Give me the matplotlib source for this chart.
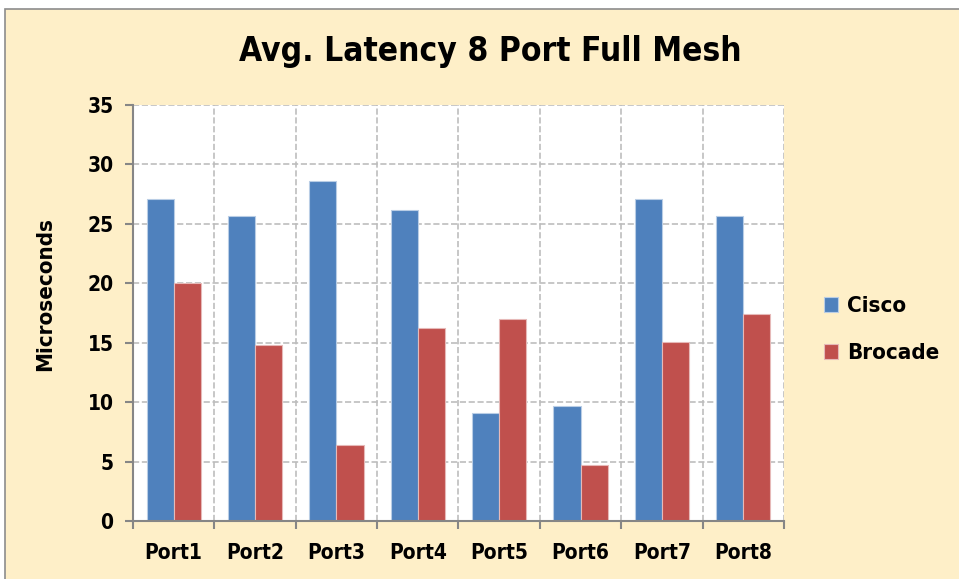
import numpy as np
import matplotlib
matplotlib.use("Agg")
import matplotlib.pyplot as plt
from matplotlib.patches import Rectangle

ports = ["Port1", "Port2", "Port3", "Port4", "Port5", "Port6", "Port7", "Port8"]
cisco = [27.1, 25.7, 28.6, 26.2, 9.1, 9.7, 27.1, 25.7]
brocade = [20.0, 14.8, 6.4, 16.2, 17.0, 4.7, 15.1, 17.4]

plt.rcParams['font.family'] = ['DejaVu Sans']
plt.rcParams['font.stretch'] = 'condensed'

bg = '#FEEFC8'
fig = plt.figure(figsize=(9.59, 5.79), dpi=100, facecolor='white')

# chart area background with a gray frame (cropped at right/bottom)
fig.patches.append(Rectangle((5 / 959, -0.05), 1.1, (579 - 9) / 579 + 0.05,
                             transform=fig.transFigure, facecolor=bg,
                             edgecolor='#8c8c8c', linewidth=1.2, zorder=-5))

ax = fig.add_axes([133 / 959, 58 / 579, (784 - 133) / 959, (521 - 105) / 579])
ax.set_zorder(2)
ax.set_facecolor('white')

x = np.arange(len(ports))
w = 1 / 3
ax.bar(x - w / 2, cisco, w, color='#4F81BD', edgecolor='#B9CDE5', linewidth=0.8,
       label='Cisco', zorder=3)
ax.bar(x + w / 2, brocade, w, color='#C0504D', edgecolor='#E6B9B8', linewidth=0.8,
       label='Brocade', zorder=3)

ax.set_xlim(-0.5, len(ports) - 0.5)
ax.set_ylim(0, 35)
ax.set_yticks(range(0, 36, 5))
ax.set_xticks(x)
ax.set_xticklabels(ports)
ax.set_xticks(np.arange(-0.5, len(ports)), minor=True)

ax.grid(True, which='major', axis='y', color='#BDBDBD', linestyle='--', linewidth=1.2, zorder=0)
ax.grid(True, which='minor', axis='x', color='#BDBDBD', linestyle='--', linewidth=1.2, zorder=0)

for s in ['top', 'right']:
    ax.spines[s].set_visible(False)
for s in ['left', 'bottom']:
    ax.spines[s].set_color('#868686')
    ax.spines[s].set_linewidth(1.5)
    ax.spines[s].set_zorder(4)

ax.tick_params(axis='x', which='major', length=0, pad=16, labelsize=15)
ax.tick_params(axis='x', which='minor', length=6, width=1.5, color='#868686', direction='out')
ax.tick_params(axis='y', length=6, width=1.5, color='#868686', direction='out', labelsize=15, pad=8)
for lbl in ax.get_xticklabels() + ax.get_yticklabels():
    lbl.set_fontweight('bold')

ax.set_ylabel('Microseconds', fontsize=16, fontweight='bold')
ax.yaxis.set_label_coords(-0.12, 0.545)

fig.text(490 / 959, 1 - 52 / 579, 'Avg. Latency 8 Port Full Mesh', ha='center', va='center',
         fontsize=24, fontweight='bold')

ax.legend(loc='center left', bbox_to_anchor=(1.03, 0.46), frameon=False,
          prop={'weight': 'bold', 'size': 16, 'stretch': 'condensed'},
          handlelength=0.65, handleheight=0.65,
          handletextpad=0.4, labelspacing=1.2)

fig.savefig('out.png', dpi=100, facecolor=fig.get_facecolor())
